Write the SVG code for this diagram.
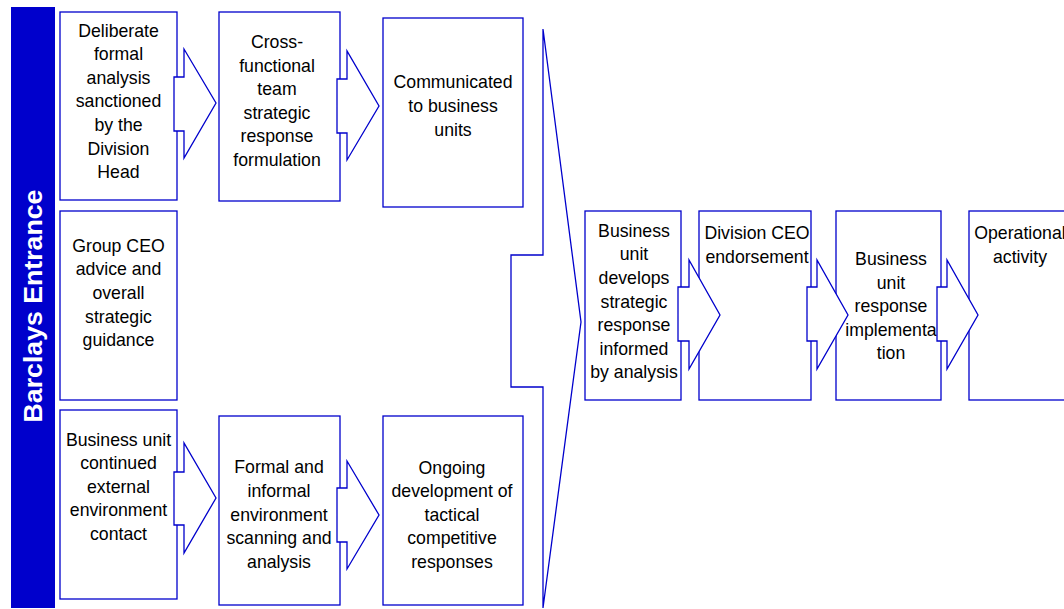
<svg xmlns="http://www.w3.org/2000/svg" width="1064" height="609" viewBox="0 0 1064 609">
<style>
.box{fill:#fff;stroke:#0000CC;stroke-width:1.3}
.arr{fill:#fff;stroke:#0000CC;stroke-width:1.3;stroke-linejoin:miter}
.t{font-family:"Liberation Sans",Arial,sans-serif;font-size:17.7px;fill:#000;text-anchor:middle}
.bar{fill:#0000CC}
.bt{font-family:"Liberation Sans",Arial,sans-serif;font-size:26.7px;font-weight:bold;fill:#fff;text-anchor:middle}
</style>
<rect width="1064" height="609" fill="#fff"/>
<g id="bar">
<rect class="bar" x="11" y="7" width="44" height="601"/>
<text class="bt" transform="translate(42,306) rotate(-90)">Barclays Entrance</text>
</g>
<g id="n1"><rect class="box" x="60" y="12" width="117" height="188"/>
<text class="t" x="118.5" y="36.5">Deliberate</text><text class="t" x="118.5" y="60.1">formal</text><text class="t" x="118.5" y="83.7">analysis</text><text class="t" x="118.5" y="107.3">sanctioned</text><text class="t" x="118.5" y="130.9">by the</text><text class="t" x="118.5" y="154.5">Division</text><text class="t" x="118.5" y="178.1">Head</text></g>
<g id="n2"><rect class="box" x="219" y="12" width="121" height="189"/>
<text class="t" x="277" y="48">Cross-</text><text class="t" x="277" y="71.6">functional</text><text class="t" x="277" y="95.2">team</text><text class="t" x="277" y="118.8">strategic</text><text class="t" x="277" y="142.4">response</text><text class="t" x="277" y="166">formulation</text></g>
<g id="n3"><rect class="box" x="383" y="18" width="140" height="189"/>
<text class="t" x="453" y="88.3">Communicated</text><text class="t" x="453" y="111.9">to business</text><text class="t" x="453" y="135.5">units</text></g>
<g id="n4"><rect class="box" x="60" y="211" width="117" height="189"/>
<text class="t" x="118.5" y="251.7">Group CEO</text><text class="t" x="118.5" y="275.3">advice and</text><text class="t" x="118.5" y="298.9">overall</text><text class="t" x="118.5" y="322.5">strategic</text><text class="t" x="118.5" y="346.1">guidance</text></g>
<g id="n5"><rect class="box" x="60" y="410" width="117" height="189"/>
<text class="t" x="118.5" y="445.5">Business unit</text><text class="t" x="118.5" y="469">continued</text><text class="t" x="118.5" y="492.5">external</text><text class="t" x="118.5" y="516">environment</text><text class="t" x="118.5" y="539.5">contact</text></g>
<g id="n6"><rect class="box" x="219" y="416" width="121" height="189"/>
<text class="t" x="279" y="473.3">Formal and</text><text class="t" x="279" y="496.9">informal</text><text class="t" x="279" y="520.5">environment</text><text class="t" x="279" y="544.1">scanning and</text><text class="t" x="279" y="567.7">analysis</text></g>
<g id="n7"><rect class="box" x="383" y="416" width="140" height="189"/>
<text class="t" x="452" y="473.5">Ongoing</text><text class="t" x="452" y="497.1">development of</text><text class="t" x="452" y="520.7">tactical</text><text class="t" x="452" y="544.3">competitive</text><text class="t" x="452" y="567.9">responses</text></g>
<g id="n8"><rect class="box" x="585" y="211" width="96" height="189"/>
<text class="t" x="634" y="236.7">Business</text><text class="t" x="634" y="260.3">unit</text><text class="t" x="634" y="283.9">develops</text><text class="t" x="634" y="307.5">strategic</text><text class="t" x="634" y="331.1">response</text><text class="t" x="634" y="354.7">informed</text><text class="t" x="634" y="378.3">by analysis</text></g>
<g id="n9"><rect class="box" x="699" y="211" width="112" height="189"/>
<text class="t" x="757" y="239">Division CEO</text><text class="t" x="757" y="262.6">endorsement</text></g>
<g id="n10"><rect class="box" x="836" y="211" width="105" height="189"/>
<text class="t" x="891" y="265">Business</text><text class="t" x="891" y="288.6">unit</text><text class="t" x="891" y="312.2">response</text><text class="t" x="891" y="335.8">implementa</text><text class="t" x="891" y="359.4">tion</text></g>
<g id="n11"><rect class="box" x="969" y="211" width="110" height="189"/>
<text class="t" x="1020" y="239">Operational</text><text class="t" x="1020" y="262.6">activity</text></g>
<g id="connectors">
<polygon class="arr" points="174,77 184,77 184,49 216,103 184,158 184,131 174,131"/>
<polygon class="arr" points="337,79 347,79 347,51 379,106 347,160 347,133 337,133"/>
<polygon class="arr" points="174,472 184,472 184,443 216,498 184,553 184,525 174,525"/>
<polygon class="arr" points="337,488 347,488 347,461 379,515 347,569 347,542 337,542"/>
<polygon class="arr" points="543,29 581,322 543,608 543,387 511,387 511,255 543,255"/>
<polygon class="arr" points="678,287 689,287 689,260 720,315 689,369 689,341 678,341"/>
<polygon class="arr" points="807,287 817,287 817,260 848,315 817,369 817,341 807,341"/>
<polygon class="arr" points="937,287 947,287 947,260 978,315 947,369 947,341 937,341"/>
</g>
</svg>
